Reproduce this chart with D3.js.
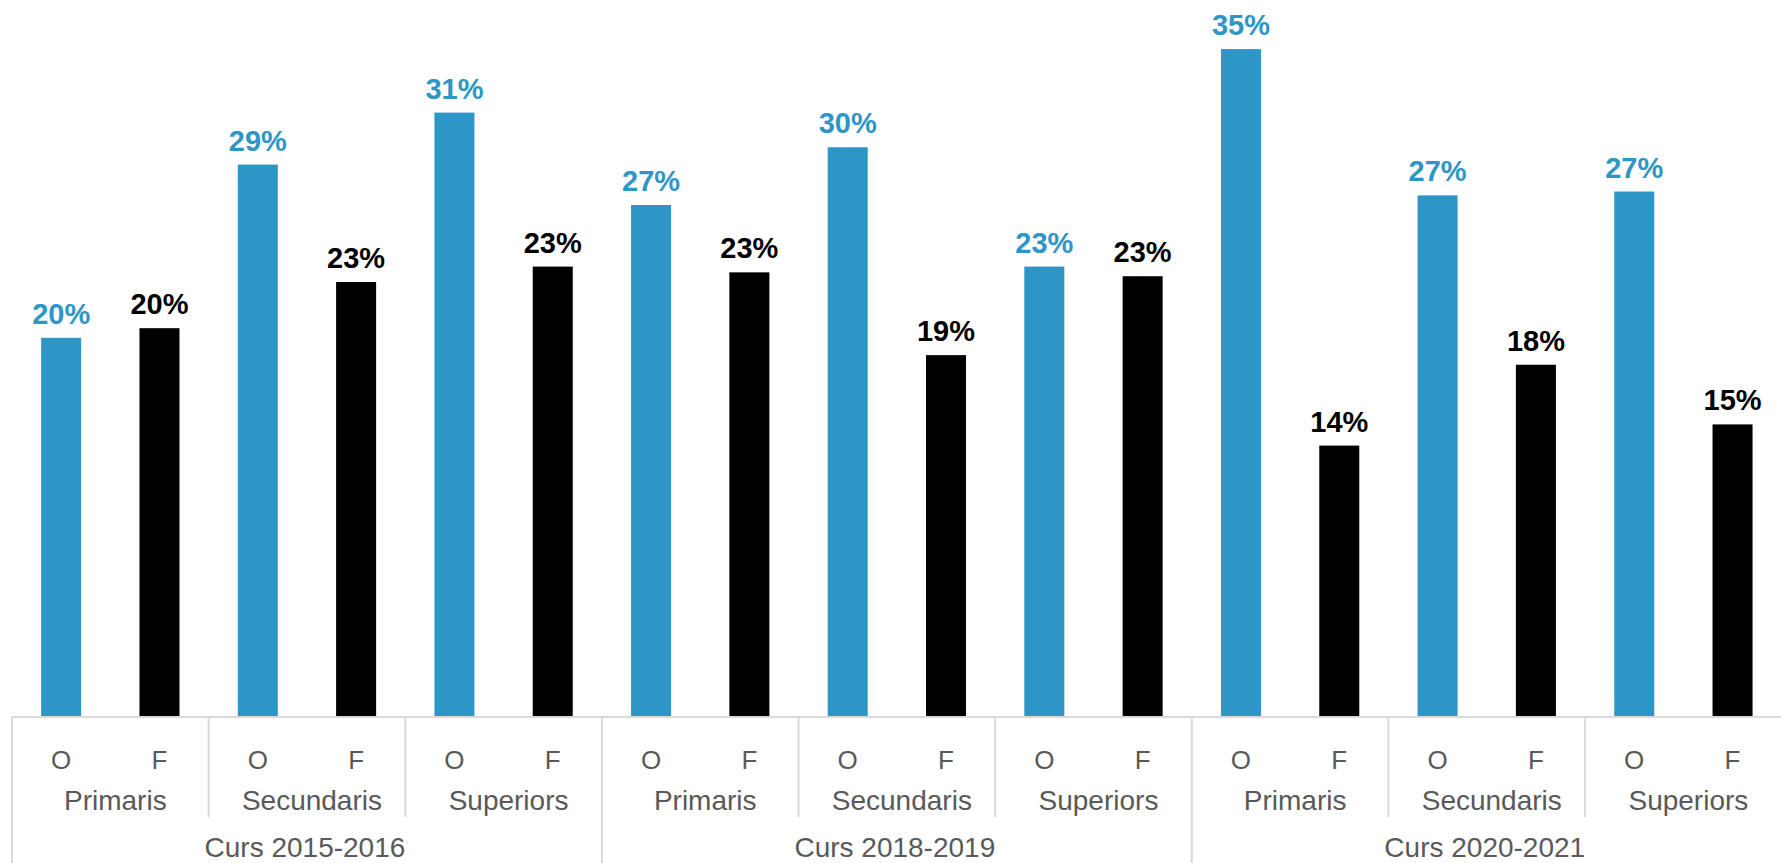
<!DOCTYPE html>
<html>
<head>
<meta charset="utf-8">
<script src="https://cdn.jsdelivr.net/npm/d3@7"></script>
<style>
  html, body { margin: 0; padding: 0; background: #fff; }
  svg { display: block; font-family: "Liberation Sans", Arial, sans-serif; }
</style>
</head>
<body>
<svg id="chart" width="1781" height="863"></svg>
<script>
// ---- data ----
const years = ["Curs 2015-2016", "Curs 2018-2019", "Curs 2020-2021"];
const levels = ["Primaris", "Secundaris", "Superiors"];
const kinds = ["O", "F"];
// values in %, per year, per level: O then F
const valuesO = [
  [19.7, 28.7, 31.4],
  [26.6, 29.6, 23.4],
  [34.7, 27.1, 27.3]
];
const valuesF = [
  [20.2, 22.6, 23.4],
  [23.1, 18.8, 22.9],
  [14.1, 18.3, 15.2]
];

const colors = { O: "#2E96C7", F: "#000000" };
const labelColors = { O: "#2E96C7", F: "#000000" };

const rows = [];
years.forEach((y, yi) => levels.forEach((l, li) => {
  rows.push({ year: y, level: l, kind: "O", value: valuesO[yi][li] });
  rows.push({ year: y, level: l, kind: "F", value: valuesF[yi][li] });
}));

const svg = d3.select("#chart");
const left = 12, right = 1781 + 0.7, baseY = 717;

const xYear = d3.scaleBand().domain(years).range([left, right]);
const xLevel = d3.scaleBand().domain(levels).range([0, xYear.bandwidth()]);
const pad = 0.593;
const xKind = d3.scaleBand().domain(kinds).range([0, xLevel.bandwidth()])
  .paddingInner(pad).paddingOuter(pad / 2);

const y = d3.scaleLinear().domain([0, 37.25]).range([baseY, 0]);

const xPos = d => xYear(d.year) + xLevel(d.level) + xKind(d.kind);

// bars
svg.append("g").selectAll("rect").data(rows).join("rect")
  .attr("x", xPos)
  .attr("y", d => y(d.value))
  .attr("width", xKind.bandwidth())
  .attr("height", d => baseY - y(d.value))
  .attr("fill", d => colors[d.kind]);

// data labels
const fmt = v => d3.format(".0f")(v) + "%";
svg.append("g").selectAll("text").data(rows).join("text")
  .attr("x", d => xPos(d) + xKind.bandwidth() / 2)
  .attr("y", d => y(d.value) - 14)
  .attr("text-anchor", "middle")
  .attr("font-size", 29)
  .attr("font-weight", "bold")
  .attr("fill", d => labelColors[d.kind])
  .text(d => fmt(d.value));

// axis lines
const lineColor = "#d9d9d9";
const axisG = svg.append("g");
axisG.append("line")
  .attr("x1", left).attr("x2", 1781)
  .attr("y1", baseY).attr("y2", baseY)
  .attr("stroke", lineColor).attr("stroke-width", 2);

// year separators (full height)
years.forEach(yr => {
  axisG.append("line")
    .attr("x1", xYear(yr)).attr("x2", xYear(yr))
    .attr("y1", baseY).attr("y2", 863)
    .attr("stroke", lineColor).attr("stroke-width", 2);
});
// level separators (shorter)
years.forEach(yr => levels.slice(1).forEach(l => {
  const xx = xYear(yr) + xLevel(l);
  axisG.append("line")
    .attr("x1", xx).attr("x2", xx)
    .attr("y1", baseY).attr("y2", 817)
    .attr("stroke", lineColor).attr("stroke-width", 2);
}));

const textColor = "#595959";
// O / F labels
axisG.selectAll("text.kind").data(rows).join("text")
  .attr("class", "kind")
  .attr("x", d => xPos(d) + xKind.bandwidth() / 2)
  .attr("y", 769)
  .attr("text-anchor", "middle")
  .attr("font-size", 26)
  .attr("fill", textColor)
  .text(d => d.kind);

// level labels
const levelRows = [];
years.forEach(yr => levels.forEach(l => levelRows.push({ year: yr, level: l })));
axisG.selectAll("text.level").data(levelRows).join("text")
  .attr("class", "level")
  .attr("x", d => xYear(d.year) + xLevel(d.level) + xLevel.bandwidth() / 2 + 5)
  .attr("y", 810)
  .attr("text-anchor", "middle")
  .attr("font-size", 28)
  .attr("fill", textColor)
  .text(d => d.level);

// year labels
axisG.selectAll("text.year").data(years).join("text")
  .attr("class", "year")
  .attr("x", d => xYear(d) + xYear.bandwidth() / 2 - 2)
  .attr("y", 857)
  .attr("text-anchor", "middle")
  .attr("font-size", 28)
  .attr("fill", textColor)
  .text(d => d);
</script>
</body>
</html>
